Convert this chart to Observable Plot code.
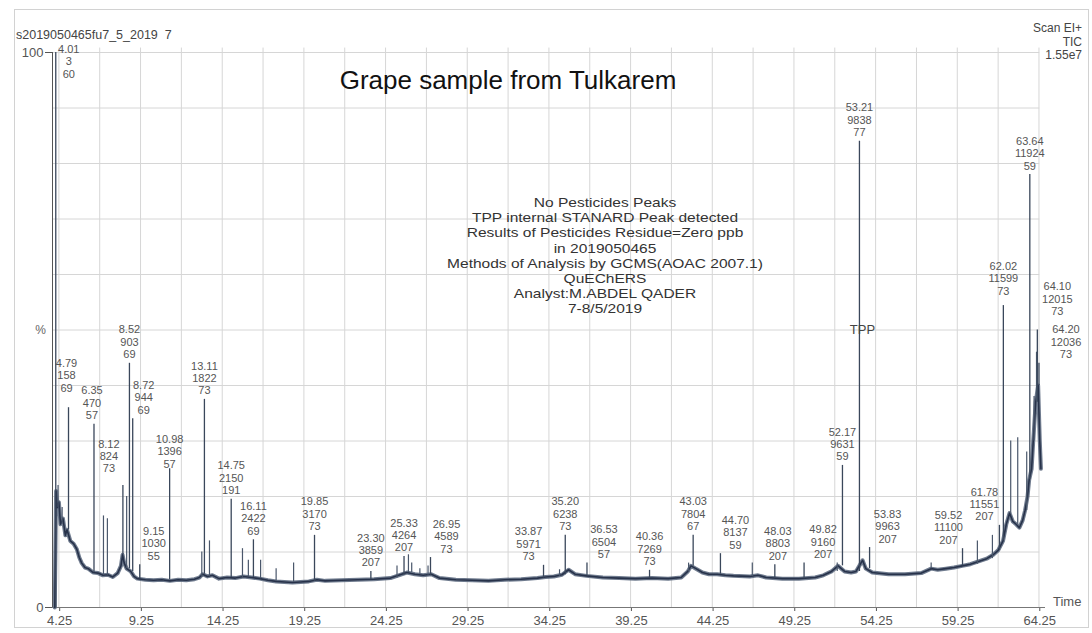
<!DOCTYPE html>
<html><head><meta charset="utf-8">
<script src="https://cdn.jsdelivr.net/npm/d3@7"></script>
<script src="https://cdn.jsdelivr.net/npm/@observablehq/plot@0.6"></script>
<style>
html,body{margin:0;padding:0;background:#fff;}
#wrap{position:relative;width:1092px;height:633px;overflow:hidden;font-family:"Liberation Sans",Arial,sans-serif;}
.ov{position:absolute;white-space:pre;}
</style></head><body><div id="wrap"></div>
<script>
// ---- labelled peaks: retention time, scan, base mass, height (% of max)
const peakTime  = [4.01,4.79,6.35,8.12,8.52,8.72,9.15,10.98,13.11,14.75,16.11,19.85,23.30,25.33,26.95,33.87,35.20,36.53,40.36,43.03,44.70,48.03,49.82,52.17,53.21,53.83,59.52,61.78,62.02,63.64,64.10,64.20];
const peakScan  = [3,158,470,824,903,944,1030,1396,1822,2150,2422,3170,3859,4264,4589,5971,6238,6504,7269,7804,8137,8803,9160,9631,9838,9963,11100,11551,11599,11924,12015,12036];
const peakMass  = [60,69,57,73,69,69,55,57,73,191,69,73,207,207,73,73,73,57,73,67,59,207,207,59,77,207,207,207,73,59,73,73];
const peakHeight= [100,36,33,22,44,34,7.7,25,37.5,19.5,12.2,13,6.5,9.2,9,7.6,13,8,6.7,13,9.7,7.7,8,25.6,84,10.8,10.6,14.8,54.4,78,50,44];

// ---- unlabelled spikes
const extraTime   = [4.15,4.4,6.93,7.17,8.35,12.95,13.42,15.44,15.8,16.55,17.5,18.57,24.9,25.6,25.8,26.3,26.8,34.85,42.75,46.65,51.85,57.6,60.43,61.35,62.47,62.9,63.45,63.9,64.05];
const extraHeight = [22,18,16.5,16,20,10,12,10.6,8.5,8.5,7,8,7.5,9.5,8,7,7.5,6.8,8,8,8,8,12,13,30,30.6,28,38,46];

// ---- baseline of the TIC trace
const baseTime  = [3.95,4.03,4.1,4.2,4.3,4.45,4.6,4.7,4.9,5.1,5.3,5.45,5.6,5.8,6.0,6.3,6.6,6.9,7.2,7.5,7.8,8.0,8.1,8.2,8.35,8.6,8.8,9.0,9.5,10.0,10.5,11.0,11.5,12.0,12.5,12.8,13.0,13.3,13.6,14.0,14.5,15.0,15.5,16.0,16.5,17.0,17.5,18.0,18.5,19.0,19.5,20.0,20.5,21.5,22.5,23.5,24.5,25.0,25.5,26.0,26.5,27.0,27.5,28.5,29.5,30.5,31.5,32.5,33.5,34.0,34.5,35.0,35.4,35.8,36.5,37.5,38.5,39.5,40.5,41.5,42.3,42.7,42.9,43.2,43.6,44.0,44.5,45.0,45.5,46.5,47.0,47.5,48.5,49.5,50.5,51.0,51.5,51.9,52.3,52.7,53.0,53.4,53.6,54.0,55.0,56.0,57.0,57.6,58.0,58.5,59.0,59.5,60.0,60.5,61.0,61.4,61.7,62.0,62.2,62.4,62.6,62.8,63.0,63.2,63.35,63.5,63.6,63.75,63.85,64.0,64.15,64.25,64.32];
const baseLevel = [0,21,18,19,15,16,13,14,12,11.5,10.5,9,8,7.2,7,6.3,6.2,5.8,5.9,5.5,6.2,7.5,9.5,8,7,6.5,5.6,5.2,5,4.9,5,4.8,5,4.9,5.1,5.4,6,5.6,5.8,5.2,5.4,5.3,5.6,5.4,5.2,4.9,4.7,4.6,4.5,4.6,4.7,5,4.8,4.9,5,5.1,5.3,5.8,6.3,6,5.8,6,5.3,5,4.9,4.8,5,5.1,5.3,5.5,5.6,5.9,6.8,6,5.7,5.4,5.3,5.2,5.3,5.2,5.4,6.5,7.5,7,6.3,6,6,5.8,5.7,5.6,5.8,5.4,5.2,5.2,5.4,5.8,6.5,7.5,6.5,6.3,6.5,8.5,7,6.3,6,6,6.2,7,6.8,7,7.2,7.5,7.8,8.3,8.8,9.5,10.3,12,15,17,15.5,15,14.4,15.7,17.5,20,23,25,30,37,40,30,25];

const xTicks = [4.25,9.25,14.25,19.25,24.25,29.25,34.25,39.25,44.25,49.25,54.25,59.25,64.25];
const yTicks = [0,100];

const headerLeft  = "s2019050465fu7_5_2019  7";
const headerRight = "Scan EI+\nTIC\n1.55e7";
const titleText   = "Grape sample from Tulkarem";
const notesText   = ["No Pesticides Peaks","TPP internal STANARD Peak detected","Results of Pesticides Residue=Zero ppb","in 2019050465","Methods of Analysis by GCMS(AOAC 2007.1)","QuEChERS","Analyst:M.ABDEL QADER","7-8/5/2019"];
const tppLabel = "TPP";

// label nudges (px) to mimic the instrument's label collision avoidance
const labelShift = {"4.01":[13,30],"4.79":[-2,-11],"6.35":[-2,0],"8.12":[-14,-8],"8.72":[11,0],"9.15":[14,0],"10.98":[0,4],
  "26.95":[16,0],"33.87":[-15,0],"36.53":[17,0],"44.70":[15,0],"48.03":[3,0],"49.82":[19,0],"53.83":[18,0],
  "59.52":[-14,0],"61.78":[-15,0],"62.02":[0,-6],"64.10":[20,-10],"64.20":[27,0]};

const baseline = baseTime.map((t,i)=>({t, v: baseLevel[i]}));
function baseAt(t){ const i = d3.bisectRight(baseTime, t) - 1; return baseLevel[Math.max(0,i)]; }
const peaks = peakTime.map((t,i)=>({t, h: peakHeight[i], b: baseAt(t), label: `${t.toFixed(2)}\n${peakScan[i]}\n${peakMass[i]}`}));
const extras = extraTime.map((t,i)=>({t, h: extraHeight[i], b: baseAt(t)}));

const X0 = 3.81, X1 = 64.6;
const font = '"Liberation Sans", Arial, sans-serif';

const chart = Plot.plot({
  width:1092, height:633, marginTop:52, marginBottom:26, marginLeft:52, marginRight:47,
  style:{fontFamily:font, fontSize:"13px", color:"#555", background:"transparent", overflow:"visible"},
  x:{domain:[X0,X1], ticks:xTicks, tickFormat:d=>d.toFixed(2), tickSize:4, tickPadding:4, label:null},
  y:{domain:[0,100], ticks:yTicks, tickSize:7, tickPadding:2, label:null},
  marks:[
    Plot.ruleY(d3.range(0,101,10), {x1:X0, x2:64.25, stroke:"#d6d6d6", strokeWidth:1}),
    Plot.ruleX(d3.range(4.2,64.3,2.5), {y1:0, y2:100.8, stroke:"#d6d6d6", strokeWidth:1}),
    Plot.ruleY([0], {x1:X0, x2:X1, stroke:"#777", strokeWidth:1}),
    Plot.ruleX([X0], {y1:0, y2:100, stroke:"#555", strokeWidth:1}),
    Plot.lineY(baseline, {x:"t", y:"v", stroke:"#56647a", strokeWidth:4, strokeOpacity:0.85}),
    Plot.lineY(baseline, {x:"t", y:"v", stroke:"#27324a", strokeWidth:1.6}),
    Plot.ruleX(extras, {x:"t", y1:"b", y2:"h", stroke:"#4a576b", strokeWidth:1.2}),
    Plot.ruleX(peaks, {x:"t", y1:"b", y2:"h", stroke:"#3a475b", strokeWidth:1.3}),
    ...peaks.map(p=>{
      const o = labelShift[p.t.toFixed(2)] || [0,0];
      return Plot.text([p], {x:"t", y:"h", text:"label", lineAnchor:"bottom", lineHeight:1.13,
        fontSize:11, fill:"#555", dx:o[0], dy:o[1]-5});
    }),
    Plot.text([{t:53.21, v:50, s:tppLabel}], {x:"t", y:"v", text:"s", fontSize:13, fill:"#444", dx:3}),
    Plot.text([{v:50, s:"%"}], {frameAnchor:"left", y:"v", text:"s", fontSize:12, fill:"#666", dx:-12, textAnchor:"middle"})
  ]
});

const wrap = document.getElementById("wrap");
wrap.appendChild(chart);

function overlay(text, css){
  const d = document.createElement("div");
  d.className = "ov"; d.textContent = text; d.style.cssText += css;
  wrap.appendChild(d); return d;
}
const frame = document.createElement("div");
frame.style.cssText = "position:absolute;left:14px;top:9px;width:1073px;height:617px;border:1px solid #d2d2d2;pointer-events:none;";
wrap.appendChild(frame);

overlay(headerLeft, "left:16px;top:28.5px;font-size:12.5px;line-height:13px;color:#444;");
overlay(headerRight, "right:10px;top:22px;font-size:12px;line-height:13.5px;color:#444;text-align:right;");
overlay(titleText, "left:508px;top:65px;transform:translateX(-50%);font-size:26px;line-height:30px;color:#111;");
overlay(notesText.join("\n"), "left:605px;top:195px;transform:translateX(-50%) scaleX(1.15);font-size:13.5px;line-height:15.2px;color:#333;text-align:center;");
overlay("Time", "left:1053px;top:594px;font-size:13px;line-height:15px;color:#555;");
</script></body></html>
